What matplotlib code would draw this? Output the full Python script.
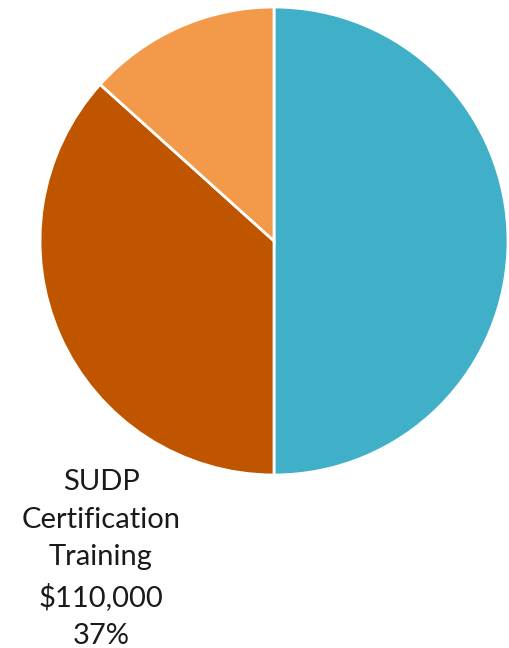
import matplotlib.pyplot as plt

# slice data, clockwise from 12 o'clock
categories = ['Other costs', 'SUDP Certification Training', 'Additional costs']
values = [150000, 110000, 40000]
colors = ['#40AFC8', '#C05500', '#F39A4A']

plt.rcParams['font.family'] = ['Lato', 'DejaVu Sans']

fig = plt.figure(figsize=(5.09, 6.48), dpi=100)
ax = fig.add_axes([0, 0, 1, 1])

ax.pie(values, colors=colors, startangle=90, counterclock=False,
       center=(274, 407), radius=234, frame=True,
       wedgeprops=dict(edgecolor='white', linewidth=2))
ax.set_xlim(0, 509)
ax.set_ylim(0, 648)
ax.set_aspect('equal')
ax.axis('off')

total = sum(values)
i = 1
label = categories[i].replace('SUDP ', 'SUDP\n').replace(' Training', '\nTraining')
txt = f"{label}\n${values[i]:,}\n{values[i] / total * 100:.0f}%"
ax.text(101, 89, txt, ha='center', va='center', multialignment='center',
        fontsize=21, color='#1a1a1a', linespacing=1.55)

fig.savefig('out.png', dpi=100)
